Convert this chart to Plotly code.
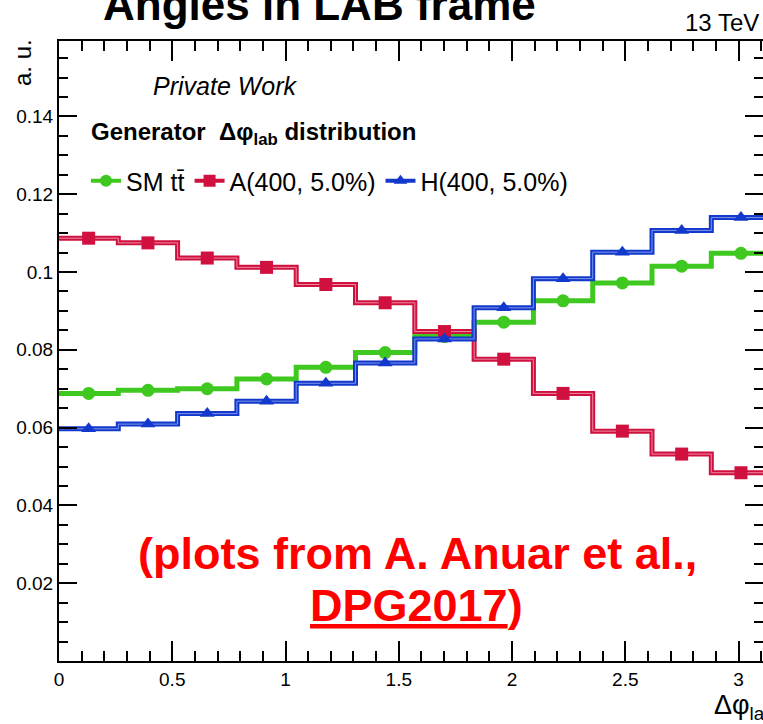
import numpy as np
import plotly.graph_objects as go

# ---------------- data ----------------
n_bins = 12
phi_max = np.pi
bin_edges = np.linspace(0.0, phi_max, n_bins + 1)
bin_centers = 0.5 * (bin_edges[:-1] + bin_edges[1:])

sm_tt = [0.0688, 0.0696, 0.0700, 0.0725, 0.0755, 0.0793,
         0.0834, 0.0871, 0.0926, 0.0972, 0.1015, 0.1048]
a_400 = [0.1087, 0.1075, 0.1036, 0.1012, 0.0968, 0.0921,
         0.0847, 0.0776, 0.0688, 0.0591, 0.0532, 0.0484]
h_400 = [0.0597, 0.0609, 0.0636, 0.0668, 0.0714, 0.0766,
         0.0828, 0.0908, 0.0983, 0.1051, 0.1107, 0.1140]

series_names = ["SM tt\u0304", "A(400, 5.0%)", "H(400, 5.0%)"]
series_values = [sm_tt, a_400, h_400]
series_colors = ["#3fc81f", "#d0103f", "#1238cc"]
series_inner = [None, "#ec8aa2", "#7f95ea"]
series_symbols = ["circle", "square", "triangle-up"]

y_tick_vals = [0.02, 0.04, 0.06, 0.08, 0.10, 0.12, 0.14]
y_tick_text = ["0.02", "0.04", "0.06", "0.08", "0.1", "0.12", "0.14"]
x_tick_vals = [0, 0.5, 1, 1.5, 2, 2.5, 3]
x_tick_text = ["0", "0.5", "1", "1.5", "2", "2.5", "3"]

# ---------------- layout geometry ----------------
W, H = 763, 724
L, R, T, B = 59, 0, 41, 63
PW, PH = W - L - R, H - T - B
x_range = [0.0, 3.108]
y_range = [0.0, 0.1594]


def px(xp):
    return (xp - L) / PW


def py(yp):
    return (H - B - yp) / PH


FONT = "Liberation Sans, Arial, Helvetica, sans-serif"

fig = go.Figure()

for name, vals, col, inner, sym in zip(series_names, series_values,
                                       series_colors, series_inner,
                                       series_symbols):
    step_y = list(vals) + [vals[-1]]
    fig.add_trace(go.Scatter(x=bin_edges, y=step_y, mode="lines",
                             line=dict(color=col, width=5, shape="hv"),
                             showlegend=False, hoverinfo="skip"))
    if inner is not None:
        fig.add_trace(go.Scatter(x=bin_edges, y=step_y, mode="lines",
                                 line=dict(color=inner, width=1, shape="hv"),
                                 showlegend=False, hoverinfo="skip"))
    fig.add_trace(go.Scatter(x=bin_centers, y=vals, mode="markers",
                             marker=dict(symbol=sym, size=13, color=col),
                             showlegend=False))
    fig.add_trace(go.Scatter(x=[None], y=[None], mode="lines+markers",
                             name=name,
                             line=dict(color=col, width=4),
                             marker=dict(symbol=sym, size=12, color=col)))

# invisible trace for the right-hand tick axis
fig.add_trace(go.Scatter(x=[None], y=[None], yaxis="y2", showlegend=False,
                         hoverinfo="skip"))

axis_common = dict(showgrid=False, zeroline=False, ticks="inside",
                   tickcolor="black", tickwidth=2, linecolor="black",
                   linewidth=2)

fig.update_layout(
    width=W, height=H,
    margin=dict(l=L, r=R, t=T, b=B),
    paper_bgcolor="white", plot_bgcolor="white",
    font=dict(family=FONT, color="black"),
    xaxis=dict(range=x_range, showline=True, mirror="ticks",
               tickmode="array", tickvals=x_tick_vals, ticktext=x_tick_text,
               ticklen=20, tickfont=dict(size=19),
               minor=dict(dtick=0.1, tick0=0, ticklen=10, ticks="inside",
                          tickcolor="black", tickwidth=2, showgrid=False),
               **axis_common),
    yaxis=dict(range=y_range, showline=True, mirror=False,
               tickmode="array", tickvals=y_tick_vals, ticktext=y_tick_text,
               ticklen=18, tickfont=dict(size=19),
               minor=dict(dtick=0.005, tick0=0, ticklen=9, ticks="inside",
                          tickcolor="black", tickwidth=2, showgrid=False),
               **axis_common),
    yaxis2=dict(range=y_range, overlaying="y", side="right", anchor="x",
                showline=False, showticklabels=False, showgrid=False,
                zeroline=False, ticks="inside", tickcolor="black",
                tickwidth=2, ticklen=18, tickmode="array",
                tickvals=y_tick_vals,
                minor=dict(dtick=0.005, tick0=0, ticklen=9, ticks="inside",
                           tickcolor="black", tickwidth=2, showgrid=False)),
    legend=dict(orientation="h", x=px(86), y=py(158), xanchor="left",
                yanchor="top", bgcolor="rgba(0,0,0,0)",
                font=dict(size=25, family=FONT), itemwidth=30,
                tracegroupgap=0),
    showlegend=True,
)

annotations = [
    dict(text="<b>Angles in LAB frame</b>", x=px(319), y=py(5),
         xanchor="center", yanchor="middle", font=dict(size=44)),
    dict(text="13 TeV", x=px(761), y=py(23), xanchor="right",
         yanchor="middle", font=dict(size=24)),
    dict(text="a. u.", x=px(22), y=py(63), xanchor="center",
         yanchor="middle", textangle=-90, font=dict(size=24)),
    dict(text="<i>Private Work</i>", x=px(151), y=py(86), xanchor="left",
         yanchor="middle", font=dict(size=25)),
    dict(text="<b>Generator  \u0394\u03c6<sub>lab</sub> distribution</b>",
         x=px(89), y=py(133), xanchor="left", yanchor="middle",
         font=dict(size=24)),
    dict(text="\u0394\u03c6<sub>lab</sub>", x=px(712), y=py(707),
         xanchor="left", yanchor="middle", font=dict(size=27)),
    dict(text="<b>(plots from A. Anuar et al.,</b>", x=px(417), y=py(553),
         xanchor="center", yanchor="middle",
         font=dict(size=45, color="#ff0000")),
    dict(text="<b><u>DPG2017</u>)</b>", x=px(416), y=py(605),
         xanchor="center", yanchor="middle",
         font=dict(size=45, color="#ff0000")),
]
for a in annotations:
    a.update(xref="paper", yref="paper", showarrow=False)
fig.update_layout(annotations=annotations)

fig.write_html("out.html")
